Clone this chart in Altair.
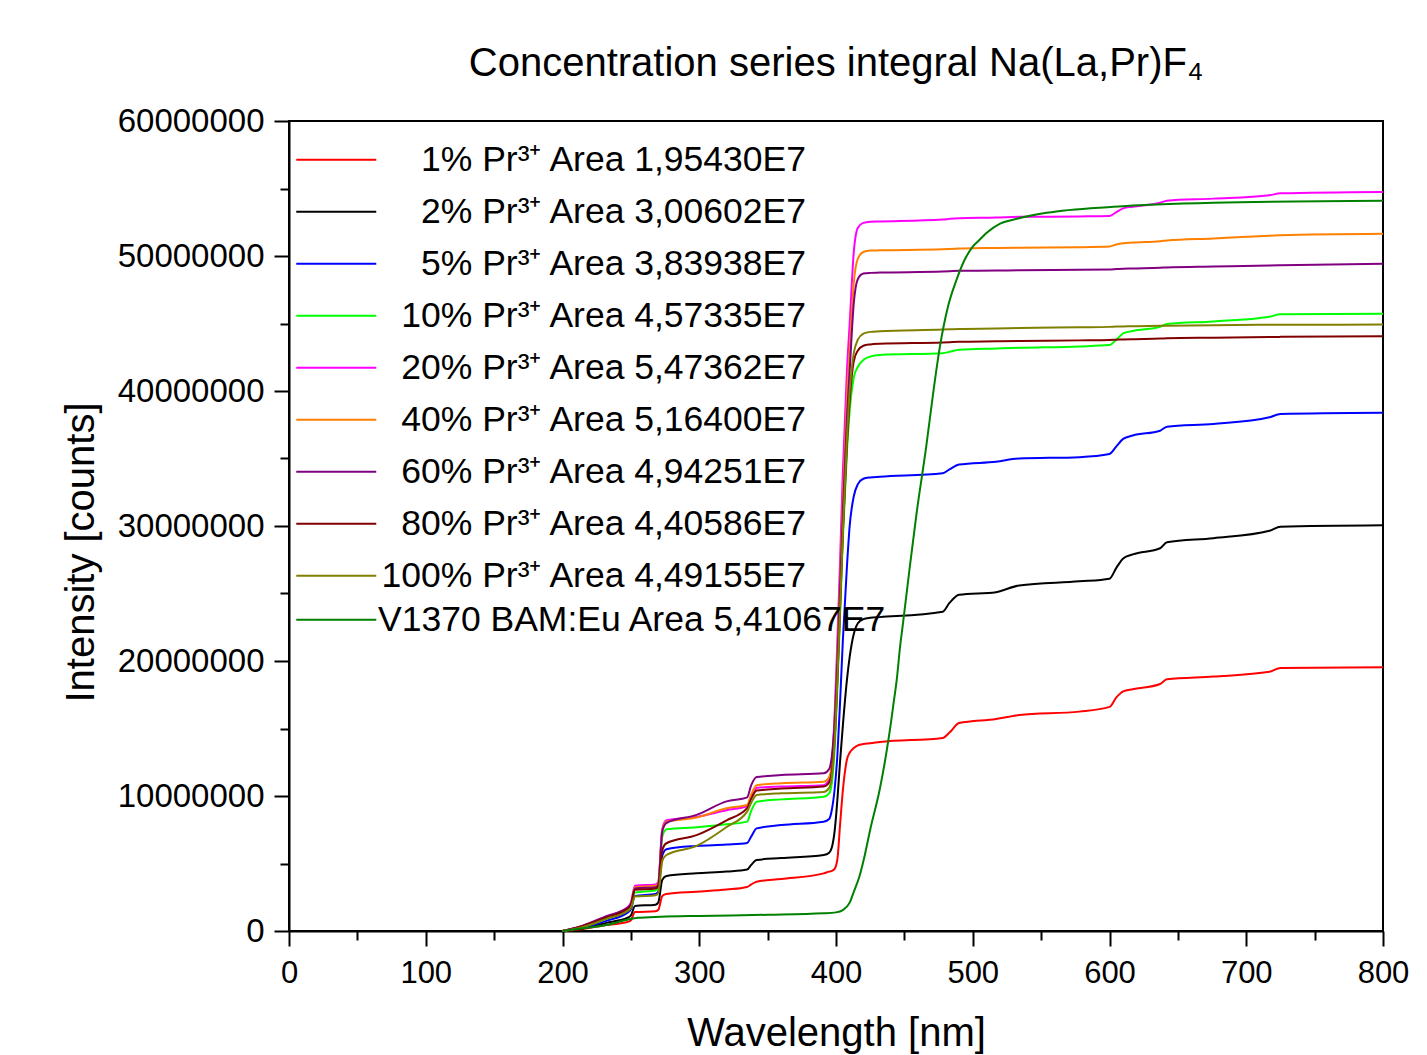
import altair as alt
import pandas as pd

# Wavelength grid (nm) shared by the Pr3+ series
WL = [200, 215, 232, 248, 250, 253, 268, 270, 273, 276,
      298, 320, 335, 338, 342, 360, 391, 395, 397, 399,
      401, 403, 405, 408, 410, 413, 416, 420, 425, 432,
      478, 483, 490, 517, 534, 578, 600, 605, 610, 617,
      637, 642, 676, 717, 725, 800]

# Integrated intensity (millions of counts)
PR1 = [0, 0.15, 0.44, 0.69, 0.8, 1.4, 1.47, 1.55, 2.6, 2.74,
       2.91, 3.07, 3.26, 3.45, 3.65, 3.85, 4.27, 4.4, 4.45, 4.6,
       5.3, 7.9, 10.4, 12.7, 13.2, 13.55, 13.75, 13.85, 13.9, 14.0,
       14.3, 14.7, 15.4, 15.7, 16.0, 16.25, 16.6, 17.3, 17.75, 17.9,
       18.3, 18.65, 18.85, 19.2, 19.48, 19.54]
PR2 = [0, 0.2, 0.6, 1.0, 1.15, 1.85, 1.95, 2.1, 3.8, 4.07,
       4.27, 4.4, 4.55, 4.9, 5.26, 5.4, 5.63, 5.8, 6.2, 7.4,
       9.7, 12.6, 15.2, 18.6, 20.3, 22.0, 22.8, 23.1, 23.2, 23.25,
       23.65, 24.3, 24.9, 25.1, 25.6, 25.9, 26.1, 26.9, 27.6, 27.9,
       28.35, 28.8, 29.1, 29.65, 29.95, 30.06]
PR5 = [0, 0.25, 0.75, 1.4, 1.6, 2.6, 2.75, 2.9, 5.6, 6.05,
       6.3, 6.4, 6.52, 7.0, 7.6, 7.85, 8.1, 8.3, 9.0, 10.5,
       13.0, 17.0, 21.5, 27.0, 30.0, 32.2, 33.1, 33.5, 33.6, 33.65,
       33.9, 34.2, 34.55, 34.76, 35.0, 35.1, 35.33, 35.9, 36.45, 36.7,
       37.06, 37.36, 37.56, 38.05, 38.3, 38.39]
PR10 = [0, 0.3, 0.9, 1.6, 1.8, 2.85, 3.0, 3.2, 7.0, 7.53,
        7.68, 7.9, 8.1, 8.9, 9.58, 9.75, 9.95, 10.2, 11.0, 13.5,
        18.0, 23.5, 29.0, 35.5, 38.5, 41.0, 41.8, 42.3, 42.55, 42.67,
        42.8, 42.9, 43.05, 43.15, 43.2, 43.3, 43.4, 43.8, 44.27, 44.45,
        44.76, 44.96, 45.15, 45.5, 45.68, 45.73]
PR20 = [0, 0.4, 1.06, 1.8, 2.1, 3.35, 3.45, 3.6, 7.6, 8.2,
        8.45, 8.95, 9.26, 10.0, 10.6, 10.7, 10.8, 11.2, 12.3, 16.0,
        21.5, 27.5, 34.0, 41.5, 45.0, 50.3, 52.1, 52.45, 52.54, 52.56,
        52.7, 52.75, 52.8, 52.85, 52.9, 52.93, 52.96, 53.25, 53.53, 53.65,
        53.95, 54.1, 54.25, 54.5, 54.64, 54.74]
PR40 = [0, 0.35, 1.0, 1.7, 2.0, 3.25, 3.35, 3.5, 7.5, 8.1,
        8.4, 9.1, 9.33, 10.1, 10.8, 10.95, 11.06, 11.4, 12.4, 15.5,
        20.5, 26.0, 32.0, 39.5, 43.0, 48.0, 49.8, 50.3, 50.4, 50.42,
        50.5, 50.52, 50.55, 50.6, 50.62, 50.65, 50.7, 50.85, 50.95, 51.0,
        51.1, 51.15, 51.3, 51.5, 51.53, 51.64]
PR60 = [0, 0.4, 1.1, 1.75, 2.0, 3.15, 3.25, 3.4, 7.4, 8.0,
        8.6, 9.6, 9.9, 10.8, 11.4, 11.55, 11.68, 12.0, 13.0, 15.5,
        20.0, 25.5, 31.0, 38.0, 41.5, 46.5, 48.3, 48.7, 48.75, 48.77,
        48.85, 48.87, 48.9, 48.92, 48.95, 48.98, 49.0, 49.03, 49.06, 49.08,
        49.13, 49.15, 49.22, 49.3, 49.32, 49.43]
PR80 = [0, 0.38, 1.0, 1.7, 1.9, 3.05, 3.15, 3.3, 6.0, 6.5,
        7.1, 8.2, 9.1, 9.8, 10.4, 10.55, 10.7, 11.0, 11.9, 14.2,
        18.6, 24.0, 29.5, 36.0, 39.3, 42.2, 43.0, 43.35, 43.45, 43.5,
        43.6, 43.62, 43.65, 43.68, 43.7, 43.75, 43.78, 43.8, 43.82, 43.84,
        43.88, 43.9, 43.95, 44.0, 44.01, 44.06]
PR100 = [0, 0.3, 0.9, 1.5, 1.7, 2.55, 2.65, 2.8, 5.2, 5.63,
         6.3, 7.7, 8.84, 9.5, 10.07, 10.2, 10.3, 10.6, 11.5, 14.0,
         18.6, 24.0, 29.5, 36.5, 40.0, 42.8, 43.8, 44.25, 44.38, 44.42,
         44.55, 44.57, 44.6, 44.63, 44.66, 44.72, 44.75, 44.77, 44.78, 44.8,
         44.83, 44.84, 44.87, 44.9, 44.9, 44.92]

# Reference phosphor BAM:Eu has its own grid
BAM_WL = [200, 215, 232, 248, 255, 272, 300, 350, 391, 400,
          405, 410, 413, 417, 421, 425, 432, 437, 440, 442,
          444.4, 446.8, 449, 454, 459, 466, 471, 476, 482, 488,
          494, 500, 505, 510, 520, 530, 554, 603, 676, 800]
BAM = [0, 0.2, 0.44, 0.85, 0.98, 1.06, 1.12, 1.2, 1.31, 1.38,
       1.55, 2.1, 2.9, 4.0, 5.6, 7.5, 10.5, 13.3, 15.3, 16.8,
       18.6, 21.0, 22.8, 27.0, 31.0, 35.9, 39.8, 43.3, 46.3, 48.2,
       49.7, 50.7, 51.2, 51.7, 52.4, 52.7, 53.2, 53.65, 53.95, 54.1]

PR_LABELS = [
    "1% Pr³⁺ Area 1,95430E7",
    "2% Pr³⁺ Area 3,00602E7",
    "5% Pr³⁺ Area 3,83938E7",
    "10% Pr³⁺ Area 4,57335E7",
    "20% Pr³⁺ Area 5,47362E7",
    "40% Pr³⁺ Area 5,16400E7",
    "60% Pr³⁺ Area 4,94251E7",
    "80% Pr³⁺ Area 4,40586E7",
    "100% Pr³⁺ Area 4,49155E7",
]
PR_COLORS = ["#ff0000", "#000000", "#0000ff", "#00ff00", "#ff00ff",
             "#ff8000", "#800080", "#800000", "#808000"]
BAM_LABEL = "V1370 BAM:Eu Area 5,41067E7"
BAM_COLOR = "#008000"

PR_SERIES = [PR1, PR2, PR5, PR10, PR20, PR40, PR60, PR80, PR100]

pr_rows = []
for lab, vals in zip(PR_LABELS, PR_SERIES):
    for w, v in zip(WL, vals):
        pr_rows.append({"series": lab, "wl": w, "val": v * 1e6})
pr_df = pd.DataFrame(pr_rows)
bam_df = pd.DataFrame({"series": BAM_LABEL, "wl": BAM_WL, "val": [v * 1e6 for v in BAM]})

FONT = "Liberation Sans"

x_axis = alt.Axis(
    values=list(range(0, 801, 50)),
    labelExpr="datum.value % 100 === 0 ? datum.label : ''",
    tickSize={"condition": {"test": "datum.value % 100 === 0", "value": 15}, "value": 9},
    tickWidth=2, tickColor="black", domainWidth=2, domainColor="black",
    labelFont=FONT, labelFontSize=31, labelColor="black", labelPadding=12,
    labelFlush=False,
    title="Wavelength [nm]", titleFont=FONT, titleFontSize=40, titleFontWeight="normal",
    titleColor="black", titleBaseline="alphabetic", titleY=114, grid=False,
)
y_axis = alt.Axis(
    values=list(range(0, 60000001, 5000000)),
    labelExpr="datum.value % 10000000 === 0 ? format(datum.value, 'd') : ''",
    tickSize={"condition": {"test": "datum.value % 10000000 === 0", "value": 15}, "value": 9},
    tickWidth=2, tickColor="black", domainWidth=2, domainColor="black",
    labelFont=FONT, labelFontSize=33, labelColor="black", labelPadding=10,
    labelFlush=False,
    title="Intensity [counts]", titleFont=FONT, titleFontSize=40, titleFontWeight="normal",
    titleColor="black", titleBaseline="alphabetic", titleX=-196, titleY=431, grid=False,
)

x_enc = alt.X("wl:Q", scale=alt.Scale(domain=[0, 800], nice=False, zero=False), axis=x_axis)
y_enc = alt.Y("val:Q", scale=alt.Scale(domain=[0, 60000000], nice=False), axis=y_axis)

common_legend = dict(
    title=None, orient="none", legendX=-10.5, padding=0,
    symbolType="M0,0H10", symbolSize=256, symbolStrokeWidth=2, symbolOpacity=1,
    labelFont=FONT, labelFontSize=35.5, labelColor="black", labelLimit=1200,
    rowPadding=15,
)

pr_lines = alt.Chart(pr_df).mark_line(interpolate="monotone", strokeWidth=2).encode(
    x=x_enc, y=y_enc,
    color=alt.Color("series:N", scale=alt.Scale(domain=PR_LABELS, range=PR_COLORS),
                    sort=PR_LABELS,
                    legend=alt.Legend(legendY=21, labelAlign="right", labelOffset=492,
                                      **common_legend)),
    order=alt.Order("wl:Q"),
)
bam_line = alt.Chart(bam_df).mark_line(interpolate="monotone", strokeWidth=2).encode(
    x=x_enc, y=y_enc,
    color=alt.Color("series:N", scale=alt.Scale(domain=[BAM_LABEL], range=[BAM_COLOR]),
                    legend=alt.Legend(legendY=481, labelAlign="left", labelOffset=64,
                                      **common_legend)),
    order=alt.Order("wl:Q"),
)

chart = alt.layer(pr_lines, bam_line).resolve_scale(color="independent").properties(
    width=1094, height=810,
    title=alt.TitleParams(
        text="Concentration series integral Na(La,Pr)F₄", font=FONT, fontSize=40,
        fontWeight="normal", color="black", anchor="middle", baseline="alphabetic",
        offset=43, dy=54,
    ),
    padding={"left": 281, "top": 113, "right": 34, "bottom": 126},
    autosize=alt.AutoSizeParams(type="none"),
).configure_view(stroke="black", strokeWidth=2)

chart.save("out.html", embed_options={"renderer": "svg", "actions": False})
